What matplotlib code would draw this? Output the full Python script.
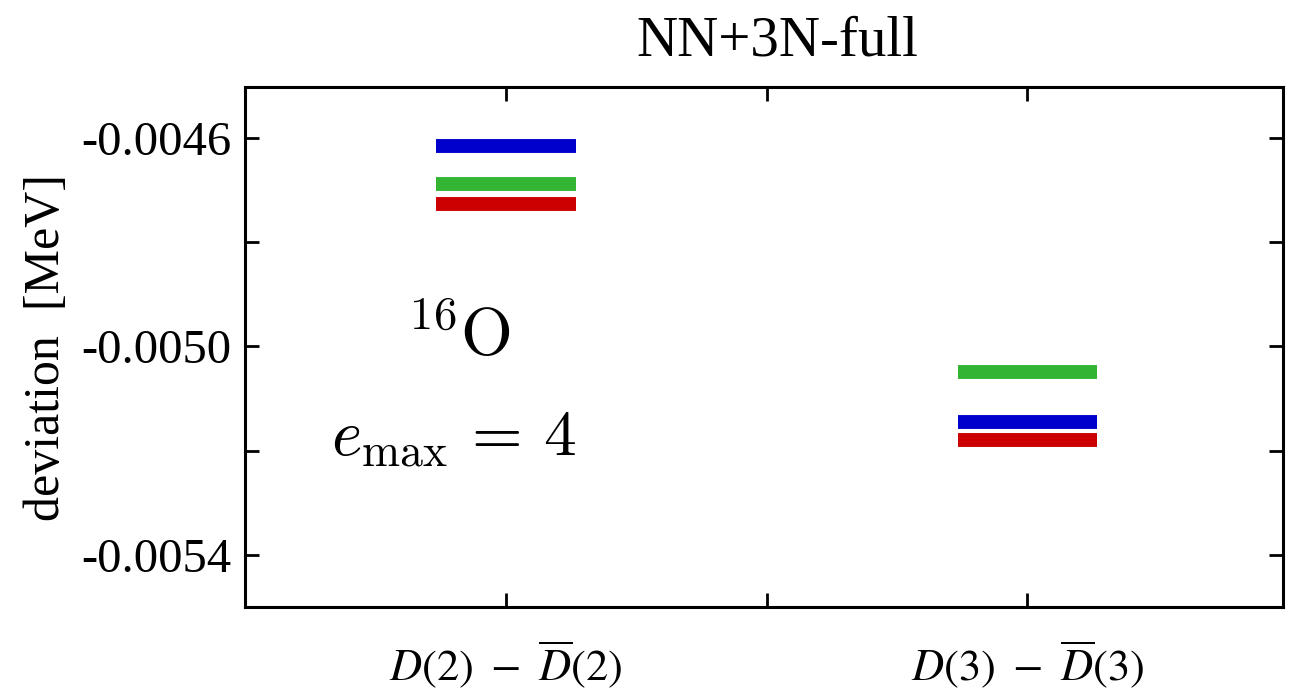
import matplotlib
matplotlib.use("Agg")
import matplotlib.pyplot as plt
from matplotlib.ticker import FixedLocator, FixedFormatter

# Data
categories = [r'$D(2)\ -\ \overline{D}(2)$', r'$D(3)\ -\ \overline{D}(3)$']
positions = [1, 2]
blue_vals = [-0.004615, -0.005144]
green_vals = [-0.004688, -0.005048]
red_vals = [-0.004727, -0.005180]
ytick_vals = [-0.0054, -0.0050, -0.0046]
ytick_labels = ['-0.0054', '-0.0050', '-0.0046']
yminor_vals = [-0.0052, -0.0048]

plt.rcParams['font.family'] = ['Liberation Serif', 'DejaVu Serif']
plt.rcParams['mathtext.fontset'] = 'cm'

fig = plt.figure(figsize=(12.94, 6.95), dpi=100)
ax = fig.add_axes([0.1893, 0.1266, 0.8022, 0.7482])

half = 0.134
for vals, col in [(blue_vals, '#0000CC'), (green_vals, '#33B533'), (red_vals, '#CC0000')]:
    for x, v in zip(positions, vals):
        ax.plot([x - half, x + half], [v, v], color=col, lw=10, solid_capstyle='butt')

ax.set_xlim(0.5, 2.49)
ax.set_ylim(-0.0055, -0.004502)

ax.yaxis.set_major_locator(FixedLocator(ytick_vals))
ax.yaxis.set_major_formatter(FixedFormatter(ytick_labels))
ax.yaxis.set_minor_locator(FixedLocator(yminor_vals))
ax.xaxis.set_major_locator(FixedLocator(positions))
ax.xaxis.set_minor_locator(FixedLocator([1.5]))
ax.set_xticklabels(categories)
for lab in ax.get_xticklabels():
    lab.set_math_fontfamily('stix')
    lab.set_fontsize(32)

for s in ax.spines.values():
    s.set_linewidth(2.2)
ax.tick_params(which='both', direction='in', top=True, right=True, length=10, width=2)
ax.tick_params(axis='y', labelsize=35, pad=10)
ax.tick_params(axis='x', pad=23)

ax.set_ylabel('deviation  [MeV]', fontsize=36, labelpad=8)
fig.text(777 / 1294, 1 - 42 / 695, 'NN+3N-full', ha='center', va='center', fontsize=41)

ax.text(0.91, -0.004985, r'$^{16}\mathrm{O}$', ha='center', va='center', fontsize=48)
ax.text(0.9, -0.005178, r'$e_{\max}\,=\,4$', ha='center', va='center', fontsize=47)

fig.savefig('out.png', dpi=100)
